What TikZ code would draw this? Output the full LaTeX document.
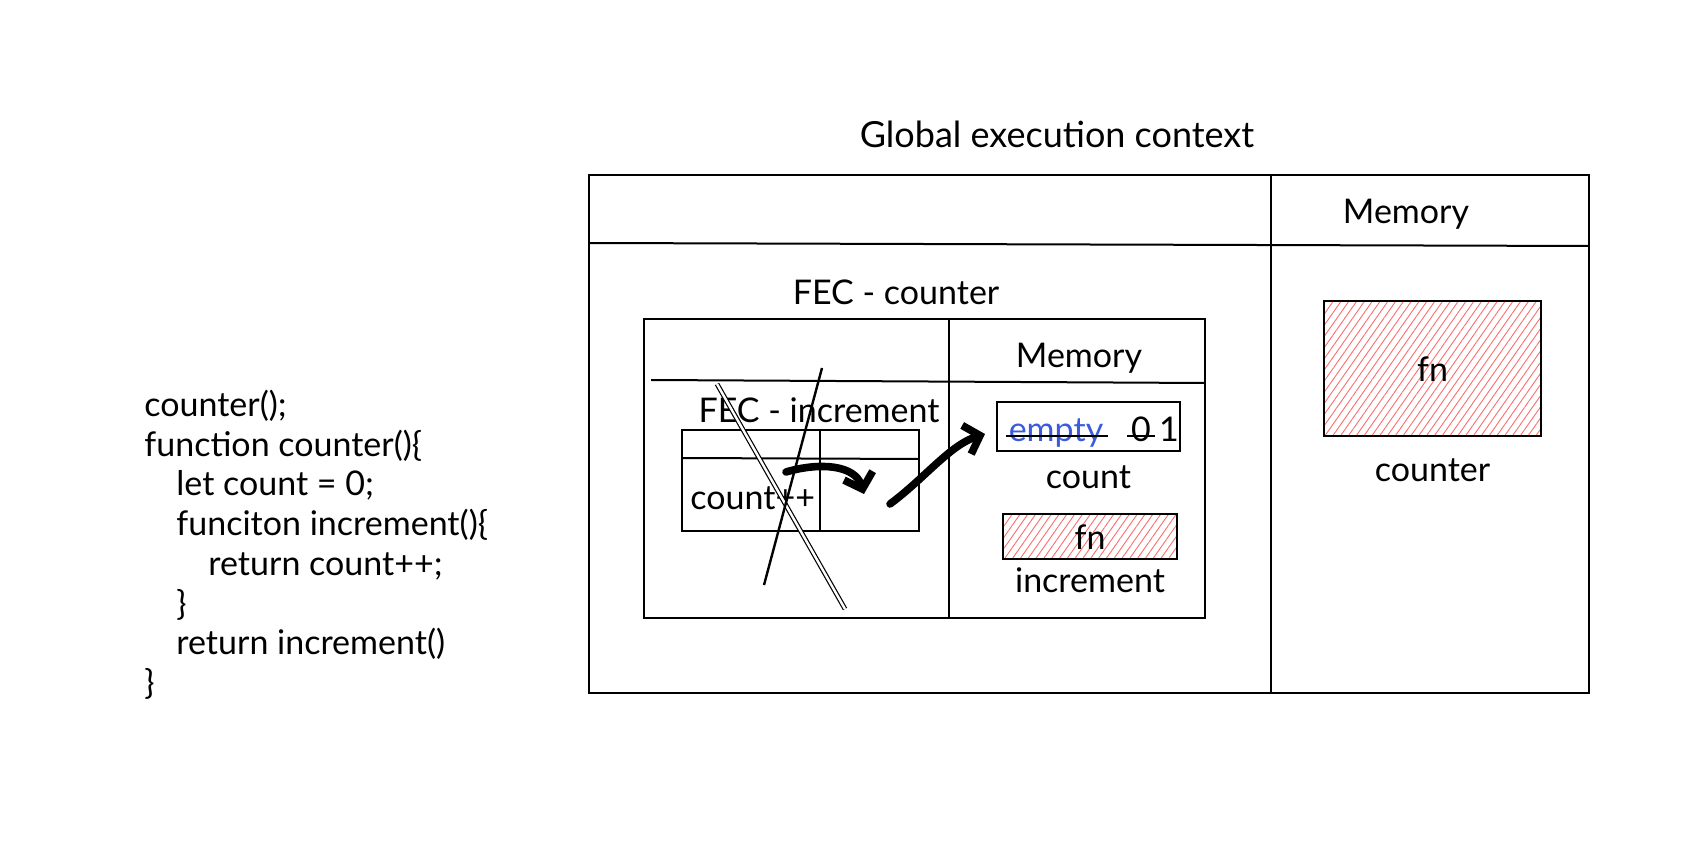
\documentclass[tikz,border=0pt]{standalone}
\usepackage{fontspec}
\setmainfont{Lato}
\usetikzlibrary{positioning,fit,patterns.meta,arrows.meta}

\definecolor{xblue}{HTML}{3B5BDB}
\definecolor{xred}{HTML}{FA5252}

\tikzset{
  box/.style={draw, line width=1pt, inner sep=0pt},
  hatched/.style={box, pattern={Lines[angle=55,distance=3.2pt,line width=0.45pt]}, pattern color=xred!85},
  lbl/.style={font=\fontsize{17}{20}\selectfont, inner sep=0pt, text height=1.5ex, text depth=.4ex, yshift=-3.5pt},
  bigarrow/.style={line width=3.8pt, line cap=round, line join=round, -{Straight Barb[length=7pt,width=15pt]}},
}

\begin{document}
\begin{tikzpicture}[x=0.5pt,y=-0.5pt]
\useasboundingbox (0,0) rectangle (1682,844);

% code
\foreach \i/\ind/\txt in {1/0/counter();, 2/0/function counter()\{, 3/1/let count = 0;, 4/1/funciton increment()\{, 5/2/return count++;, 6/1/\}, 7/1/return increment(), 8/0/\}}
  {\node[lbl, anchor=west] (code\i) at ({144+32*\ind},{404+39.7*(\i-1)}) {\txt};}

% global execution context
\node[lbl, font=\fontsize{18}{22}\selectfont] (title) at (1057,135) {Global execution context};
\node[box, fit={(589,175) (1589,693)}] (gec) {};
\draw[line width=1pt] (1271,175) -- (1271,693);
\draw[line width=1pt] (589,243) -- (1589,246);
\node[lbl] (gmem) at (1406,211) {Memory};
\node[hatched, fit={(1324,301) (1541,436)}] (gfn) {};
\node[lbl] (gfnlbl) at (gfn) {fn};
\node[lbl, below=11pt of gfn] (gcounter) {counter};

% FEC counter
\node[lbl] (fecclbl) at (896,292) {FEC - counter};
\node[box, fit={(644,319) (1205,618)}] (fecc) {};
\draw[line width=1pt] (949,319) -- (949,618);
\draw[line width=1pt] (651,380) -- (1205,383);
\node[lbl] (fmem) at (1079,355) {Memory};
\node[box, fit={(997,402) (1180,451)}] (countbox) {};
\node[lbl, text=xblue] (emptyval) at (1056,429) {empty};
\draw[line width=1pt] ([xshift=-1pt]emptyval.west) -- ([xshift=2pt]emptyval.east);
\node[lbl] (zeroval) at (1141,429) {0};
\draw[line width=1pt] ([xshift=-2pt]zeroval.west) -- ([xshift=2pt]zeroval.east);
\node[lbl] (oneval) at (1169,429) {1};
\node[lbl, below=7pt of countbox] (countlbl) {count};
\node[hatched, fit={(1003,514) (1177,559)}] (ifn) {};
\node[lbl] (ifnlbl) at (ifn) {fn};
\node[lbl, below=5pt of ifn] (incrlbl) {increment};

% FEC increment (crossed out)
\node[lbl] (fecilbl) at (819,410) {FEC - increment};
\node[box, fit={(682,430) (919,531)}] (feci) {};
\draw[line width=1pt] (820,430) -- (820,531);
\draw[line width=1pt] (682,458) -- (919,459);
\node[lbl, anchor=west] (cntpp) at (690,497) {count++};
\draw[double, double distance=1.2pt, line width=0.6pt] (717,384) -- (845,609);
\draw[line width=1.2pt] (822,368) -- (764,585);

\coordinate (a1s) at (786,472);
\coordinate (a1e) at (864,494);
\draw[bigarrow] (a1s) .. controls (820,462) and (855,465) .. (a1e);
\coordinate (a2s) at (890,504);
\coordinate (a2e) at (985,434);
\draw[bigarrow] (a2s) .. controls (925,478) and (950,445) .. (a2e);
\end{tikzpicture}
\end{document}
